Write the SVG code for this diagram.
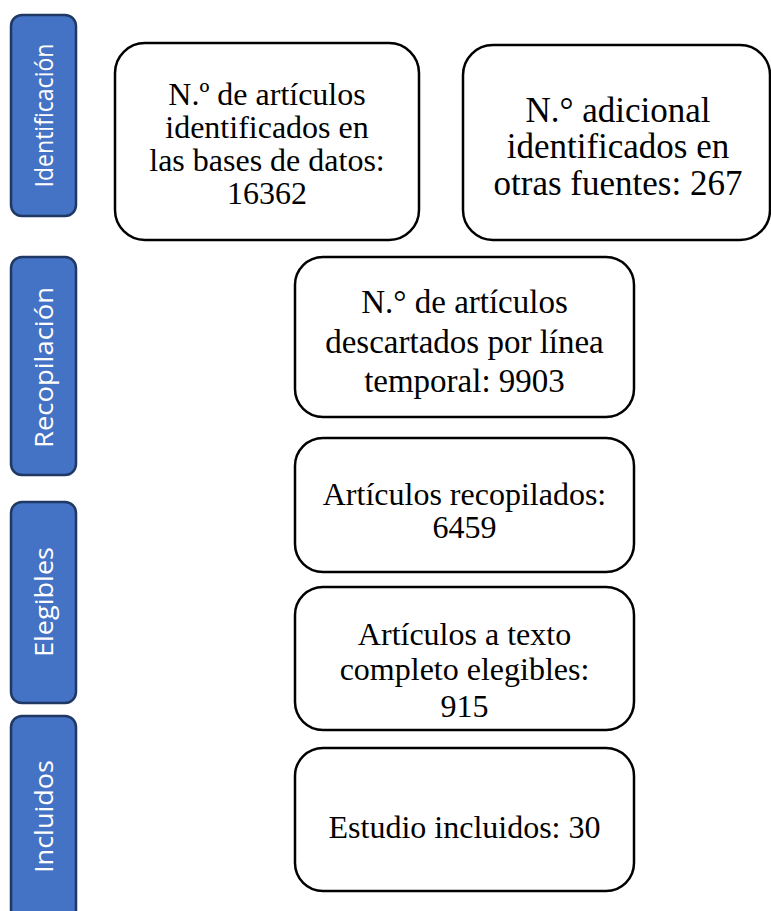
<svg xmlns="http://www.w3.org/2000/svg" width="771" height="911" viewBox="0 0 771 911">
<style>
.bar{fill:#4472C4;stroke:#1F3864;stroke-width:2.5}
.bt{fill:#ffffff;font-family:"Open Sans","Liberation Sans",sans-serif;font-size:26px;text-anchor:middle}
.box{fill:#ffffff;stroke:#000000;stroke-width:2.5}
.t{fill:#000000;font-family:"Liberation Serif","Times New Roman",serif;font-size:32px;text-anchor:middle}
</style>
<rect width="771" height="911" fill="#ffffff"/>
<g id="bar-identificacion">
<rect class="bar" x="11" y="15" width="65" height="201" rx="11"/>
<text class="bt" transform="translate(53,115.5) rotate(-90)" textLength="144" lengthAdjust="spacingAndGlyphs">Identificación</text>
</g>
<g id="bar-recopilacion">
<rect class="bar" x="11" y="257" width="65" height="218" rx="11"/>
<text class="bt" transform="translate(53,367.5) rotate(-90)" textLength="161" lengthAdjust="spacingAndGlyphs">Recopilación</text>
</g>
<g id="bar-elegibles">
<rect class="bar" x="11" y="502" width="65" height="201" rx="11"/>
<text class="bt" transform="translate(53,602) rotate(-90)" textLength="110" lengthAdjust="spacingAndGlyphs">Elegibles</text>
</g>
<g id="bar-incluidos">
<rect class="bar" x="11" y="716" width="65" height="205" rx="11"/>
<text class="bt" transform="translate(53,816.5) rotate(-90)" textLength="113" lengthAdjust="spacingAndGlyphs">Incluidos</text>
</g>
<g id="node-bases">
<rect class="box" x="115" y="43" width="304" height="197" rx="30"/>
<text class="t" x="267" y="105">N.º de artículos</text>
<text class="t" x="267" y="138">identificados en</text>
<text class="t" x="267" y="171">las bases de datos:</text>
<text class="t" x="267" y="204">16362</text>
</g>
<g id="node-otras">
<rect class="box" x="463" y="45" width="307" height="195" rx="30"/>
<text class="t" x="618" y="122" style="font-size:35px">N.° adicional</text>
<text class="t" x="618" y="158" style="font-size:35px">identificados en</text>
<text class="t" x="618" y="195" style="font-size:35px">otras fuentes: 267</text>
</g>
<g id="node-descartados">
<rect class="box" x="295" y="257" width="339" height="160" rx="28"/>
<text class="t" x="464.5" y="313" style="font-size:33px">N.° de artículos</text>
<text class="t" x="464.5" y="353" style="font-size:33px">descartados por línea</text>
<text class="t" x="464.5" y="392" style="font-size:33px">temporal: 9903</text>
</g>
<g id="node-recopilados">
<rect class="box" x="295" y="438" width="339" height="134" rx="28"/>
<text class="t" x="464.5" y="505">Artículos recopilados:</text>
<text class="t" x="464.5" y="538">6459</text>
</g>
<g id="node-elegibles">
<rect class="box" x="295" y="587" width="339" height="143" rx="28"/>
<text class="t" x="464.5" y="645">Artículos a texto</text>
<text class="t" x="464.5" y="680">completo elegibles:</text>
<text class="t" x="464.5" y="717">915</text>
</g>
<g id="node-incluidos">
<rect class="box" x="295" y="748" width="339" height="143" rx="28"/>
<text class="t" x="464.5" y="838">Estudio incluidos: 30</text>
</g>
<g id="connectors"></g>
</svg>
